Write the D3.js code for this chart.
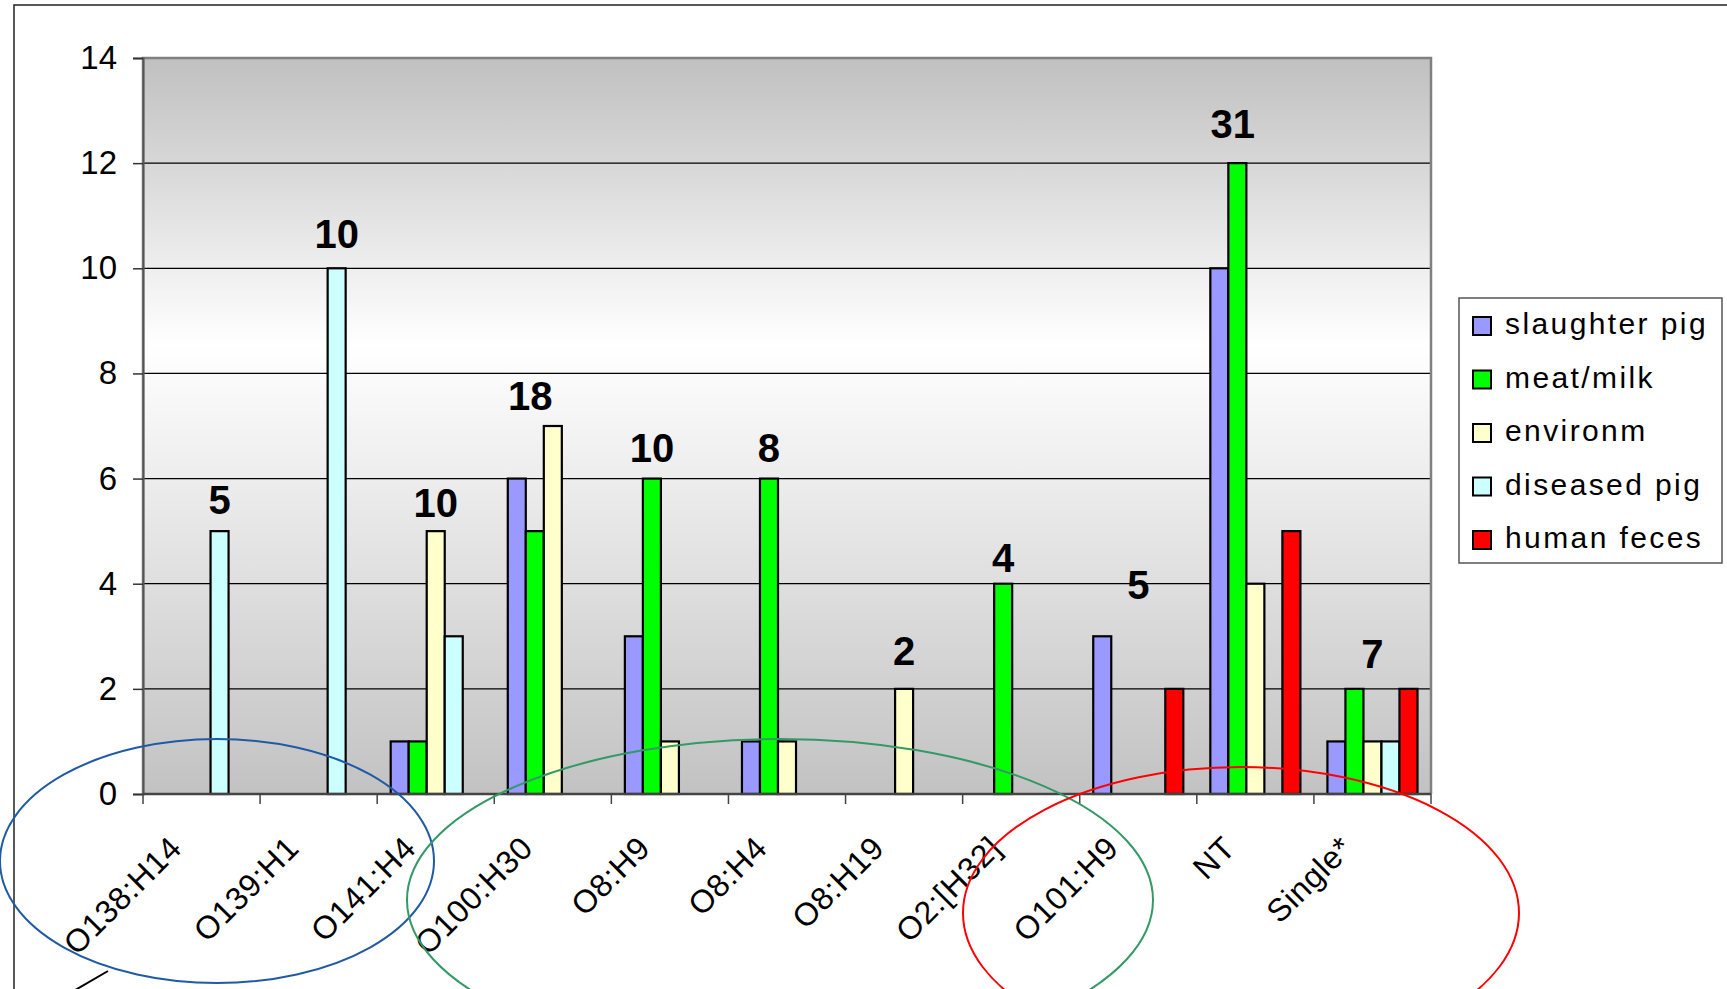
<!DOCTYPE html>
<html>
<head>
<meta charset="utf-8">
<script src="https://cdn.jsdelivr.net/npm/d3@7"></script>
<style>
  html, body { margin: 0; padding: 0; background: #fff; }
  svg { display: block; font-family: "Liberation Sans", Arial, sans-serif; }
</style>
</head>
<body>
<svg id="chart" width="1727" height="989"></svg>
<script>
// Serotypes (categories) and isolate counts per source
const categories = ["O138:H14", "O139:H1", "O141:H4", "O100:H30", "O8:H9", "O8:H4",
                    "O8:H19", "O2:[H32]", "O101:H9", "NT", "Single*"];
const seriesNames = ["slaughter pig", "meat/milk", "environm", "diseased pig", "human feces"];
const slaughterPig = [0, 0, 1, 6, 3, 1, 0, 0, 3, 10, 1];
const meatMilk     = [0, 0, 1, 5, 6, 6, 0, 4, 0, 12, 2];
const environm     = [0, 0, 5, 7, 1, 1, 2, 0, 0, 4, 1];
const diseasedPig  = [5, 10, 3, 0, 0, 0, 0, 0, 0, 0, 1];
const humanFeces   = [0, 0, 0, 0, 0, 0, 0, 0, 2, 5, 2];
const yTicks = [0, 2, 4, 6, 8, 10, 12, 14];

const seriesValues = [slaughterPig, meatMilk, environm, diseasedPig, humanFeces];
const seriesColors = ["#9999FF", "#00FF00", "#FFFFCC", "#CCFFFF", "#FF0000"];

// Where each group's total is written: bar slot it sits over and baseline level (axis units)
const totalSlot  = [3, 3, 2, 0.75, 1, 1, 2, 1, 2, 0.75, 2];
const totalLevel = [5.33, 10.39, 5.27, 7.30, 6.32, 6.32, 2.45, 4.22, 3.71, 12.48, 2.40];

const svg = d3.select("#chart");
const plot = { left: 143, right: 1431, top: 58, bottom: 794 };

const x = d3.scaleBand().domain(categories).range([plot.left, plot.right])
  .paddingInner(0).paddingOuter(0);
const x1 = d3.scaleBand().domain(d3.range(seriesNames.length)).range([0, x.bandwidth()])
  .paddingInner(0).paddingOuter(0.75);
const y = d3.scaleLinear().domain([0, 14]).range([plot.bottom, plot.top]);

// outer chart frame
svg.append("rect")
  .attr("x", 14).attr("y", 5).attr("width", 1760).attr("height", 1040)
  .attr("fill", "#fff").attr("stroke", "#222").attr("stroke-width", 1.5);

// plot background gradient
const defs = svg.append("defs");
const grad = defs.append("linearGradient").attr("id", "plotBg")
  .attr("x1", 0).attr("y1", 0).attr("x2", 0).attr("y2", 1);
grad.append("stop").attr("offset", "0%").attr("stop-color", "#c0c0c0");
grad.append("stop").attr("offset", "39%").attr("stop-color", "#ffffff");
grad.append("stop").attr("offset", "100%").attr("stop-color", "#c2c2c2");

svg.append("rect")
  .attr("x", plot.left).attr("y", plot.top)
  .attr("width", plot.right - plot.left).attr("height", plot.bottom - plot.top)
  .attr("fill", "url(#plotBg)");

// gridlines
svg.append("g").selectAll("line")
  .data(yTicks.filter(t => t > 0 && t < 14))
  .join("line")
  .attr("x1", plot.left).attr("x2", plot.right)
  .attr("y1", d => y(d)).attr("y2", d => y(d))
  .attr("stroke", "#000").attr("stroke-width", 1.2);

// plot area border
svg.append("path")
  .attr("d", `M${plot.left},${plot.bottom}V${plot.top}H${plot.right}V${plot.bottom}`)
  .attr("fill", "none").attr("stroke", "#808080").attr("stroke-width", 2.5);

// bars
const groups = svg.append("g").selectAll("g")
  .data(categories)
  .join("g")
  .attr("transform", d => `translate(${x(d)},0)`);

groups.selectAll("rect")
  .data((c, i) => seriesValues.map((vals, s) => ({ s, v: vals[i] })).filter(d => d.v > 0))
  .join("rect")
  .attr("x", d => x1(d.s))
  .attr("width", x1.bandwidth())
  .attr("y", d => y(d.v))
  .attr("height", d => y(0) - y(d.v))
  .attr("fill", d => seriesColors[d.s])
  .attr("stroke", "#000").attr("stroke-width", 2.2);

// y axis
const yAxis = svg.append("g").attr("transform", `translate(${plot.left},0)`)
  .call(d3.axisLeft(y).tickValues(yTicks).tickSize(10).tickPadding(16).tickFormat(d3.format("d")));
yAxis.select(".domain").attr("stroke", "#555").attr("stroke-width", 2);
yAxis.selectAll(".tick line").attr("stroke", "#333").attr("stroke-width", 1.5);
yAxis.selectAll(".tick text").attr("font-size", 33).attr("fill", "#000")
  .attr("font-family", "Liberation Sans, Arial, sans-serif");

// x axis: ticks at category boundaries
const bounds = categories.map(c => x(c)).concat([plot.right]);
svg.append("line")
  .attr("x1", plot.left).attr("x2", plot.right)
  .attr("y1", plot.bottom).attr("y2", plot.bottom)
  .attr("stroke", "#444").attr("stroke-width", 2.5);
svg.append("g").selectAll("line")
  .data(bounds)
  .join("line")
  .attr("x1", d => d).attr("x2", d => d)
  .attr("y1", plot.bottom).attr("y2", plot.bottom + 10)
  .attr("stroke", "#444").attr("stroke-width", 1.5);

svg.append("g").selectAll("text")
  .data(categories)
  .join("text")
  .attr("transform", d => `translate(${x(d) + x.bandwidth() / 2 - 18},${plot.bottom + 56}) rotate(-45)`)
  .attr("text-anchor", "end")
  .attr("font-size", 32)
  .attr("letter-spacing", 0.6)
  .attr("fill", "#000")
  .text(d => d);

// group totals
const totals = categories.map((c, i) => d3.sum(seriesValues, vals => vals[i]));
svg.append("g").selectAll("text")
  .data(categories)
  .join("text")
  .attr("x", (c, i) => x(c) + x1.step() * (0.75 + totalSlot[i]) + x1.bandwidth() / 2)
  .attr("y", (c, i) => y(totalLevel[i]))
  .attr("text-anchor", "middle")
  .attr("font-size", 40)
  .attr("font-weight", "bold")
  .attr("fill", "#000")
  .text((c, i) => totals[i]);

// legend
const legend = svg.append("g").attr("transform", "translate(1459,298)");
legend.append("rect")
  .attr("width", 263).attr("height", 265)
  .attr("fill", "#fff").attr("stroke", "#555").attr("stroke-width", 1.5);
const items = legend.selectAll("g.item")
  .data(seriesNames)
  .join("g").attr("class", "item")
  .attr("transform", (d, i) => `translate(0,${28 + i * 53.5})`);
items.append("rect")
  .attr("x", 14).attr("y", -9).attr("width", 18).attr("height", 18)
  .attr("fill", (d, i) => seriesColors[i])
  .attr("stroke", "#000").attr("stroke-width", 2);
items.append("text")
  .attr("x", 46).attr("y", 8)
  .attr("font-size", 30)
  .attr("letter-spacing", 2.4)
  .attr("fill", "#000")
  .text(d => d);

// hand-drawn callout ellipses grouping the serotypes
const callouts = svg.append("g").attr("fill", "none").attr("stroke-width", 2);
callouts.append("ellipse")
  .attr("cx", 217).attr("cy", 861).attr("rx", 217).attr("ry", 122)
  .attr("stroke", "#1f5aa6");
callouts.append("ellipse")
  .attr("cx", 780).attr("cy", 900).attr("rx", 373).attr("ry", 161)
  .attr("stroke", "#339966");
callouts.append("ellipse")
  .attr("cx", 1241).attr("cy", 913).attr("rx", 278).attr("ry", 146)
  .attr("stroke", "#ff0000");
callouts.append("line")
  .attr("x1", 108).attr("y1", 971).attr("x2", 46).attr("y2", 1007)
  .attr("stroke", "#000");
</script>
</body>
</html>
